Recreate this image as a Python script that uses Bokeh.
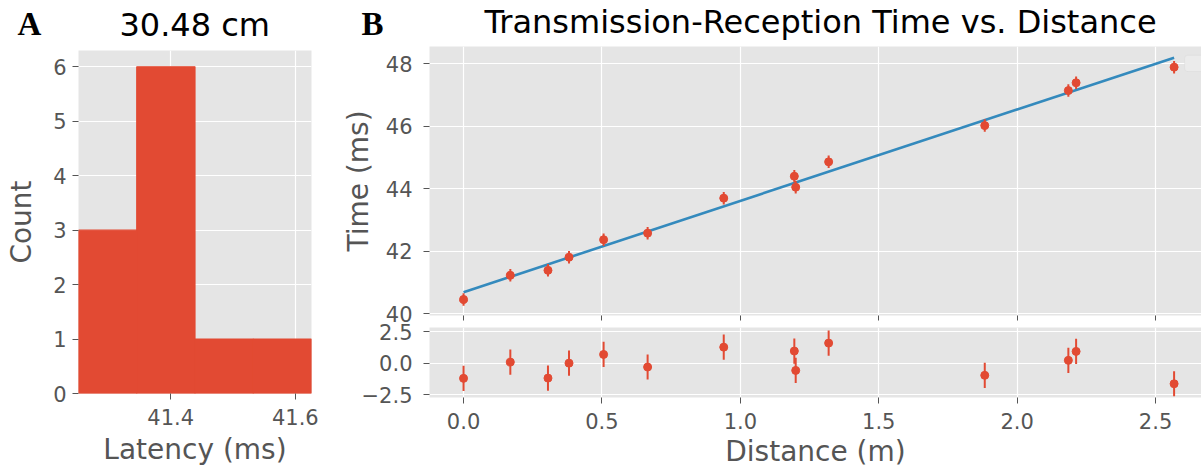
from bokeh.plotting import figure
from bokeh.layouts import row, column
from bokeh.models import Range1d, FixedTicker, BoxAnnotation, PrintfTickFormatter
from bokeh.core.properties import value
from bokeh.embed import file_html
from bokeh.resources import INLINE

# ---------------- data ----------------
# Panel A: histogram of latency at 30.48 cm
hist_edges = [41.252, 41.3455, 41.439, 41.5325, 41.626]
hist_counts = [3, 6, 1, 1]
hist_title = "30.48 cm"
main_title = "Transmission-Reception Time vs. Distance"

# Panel B: transmission-reception time vs distance
distance_m = [0.000, 0.169, 0.305, 0.381, 0.506, 0.665, 0.940,
              1.195, 1.200, 1.319, 1.883, 2.185, 2.213, 2.567]
time_ms = [40.46, 41.23, 41.39, 41.81, 42.37, 42.58, 43.70,
           44.40, 44.05, 44.86, 46.02, 47.14, 47.39, 47.89]
time_err_ms = [0.20, 0.20, 0.20, 0.20, 0.20, 0.20, 0.20,
               0.20, 0.20, 0.20, 0.20, 0.20, 0.20, 0.20]
residual = [-1.19, 0.10, -1.17, 0.02, 0.71, -0.29, 1.29,
            0.98, -0.56, 1.61, -0.95, 0.24, 0.95, -1.62]
residual_err = [1.0, 1.0, 1.0, 1.0, 1.0, 1.0, 1.0,
                1.0, 1.0, 1.0, 1.0, 1.0, 1.0, 1.0]
fit_intercept = 40.69
fit_slope = 2.923

hist_xticks = [41.4, 41.6]
hist_yticks = [0, 1, 2, 3, 4, 5, 6]
dist_ticks = [0.0, 0.5, 1.0, 1.5, 2.0, 2.5]
time_ticks = [40, 42, 44, 46, 48]
resid_ticks = [-2.5, 0.0, 2.5]
resid_labels = {-2.5: "\u22122.5", 0.0: "0.0", 2.5: "2.5"}

RED = "#E24A33"
BLUE = "#348ABD"
BG = "#E5E5E5"
GRAY = "#555555"
FONT = "DejaVu Sans"

W, HEADER_H = 1201, 46


def style(p, label_standoff=6):
    p.background_fill_color = BG
    p.border_fill_color = "white"
    p.outline_line_color = None
    p.grid.grid_line_color = "white"
    p.grid.grid_line_width = 1.2
    for ax in p.axis:
        ax.axis_line_color = None
        ax.major_tick_line_color = GRAY
        ax.major_tick_line_width = 1
        ax.major_tick_out = 6
        ax.major_tick_in = 0
        ax.minor_tick_line_color = None
        ax.major_label_text_font = FONT
        ax.major_label_text_font_size = "21px"
        ax.major_label_text_color = GRAY
        ax.major_label_standoff = label_standoff
        ax.axis_label_text_font = FONT
        ax.axis_label_text_font_size = "28px"
        ax.axis_label_text_font_style = "normal"
        ax.axis_label_text_color = GRAY


# ---------------- header: panel letters and titles ----------------
hd = figure(frame_width=W, frame_height=HEADER_H, output_backend="svg",
            toolbar_location=None, x_range=Range1d(0, W), y_range=Range1d(0, HEADER_H),
            x_axis_type=None, y_axis_type=None,
            min_border_left=0, min_border_right=0, min_border_top=0, min_border_bottom=0)
hd.outline_line_color = None
hd.background_fill_color = "white"
hd.border_fill_color = "white"
hd.grid.visible = False
hd.text(x=[17, 361], y=[23, 23], text=["A", "B"],
        text_font=value("Liberation Serif"), text_font_style="bold",
        text_font_size="33px", text_color="black",
        text_align="left", text_baseline="alphabetic")
hd.text(x=[194.2, 820], y=[21.8, 24.2], text=[hist_title, main_title],
        text_font=value(FONT), text_font_size="32px", text_color="black",
        text_align="center", text_baseline="alphabetic")

# ---------------- Panel A ----------------
pa = figure(frame_width=233, frame_height=343, output_backend="svg",
            toolbar_location=None,
            x_range=Range1d(hist_edges[0], hist_edges[-1]),
            y_range=Range1d(0, 6.3),
            min_border_left=78, min_border_right=24,
            min_border_top=4, min_border_bottom=76)
style(pa, label_standoff=6)
pa.quad(left=hist_edges[:-1], right=hist_edges[1:], bottom=0, top=hist_counts,
        fill_color=RED, line_color=RED, line_width=1.2)
pa.xaxis.ticker = FixedTicker(ticks=hist_xticks)
pa.yaxis.ticker = FixedTicker(ticks=hist_yticks)
pa.xaxis.formatter = PrintfTickFormatter(format="%.1f")
pa.xaxis.major_label_standoff = 9
pa.xaxis.axis_label = "Latency (ms)"
pa.yaxis.axis_label = "Count"
pa.xaxis.axis_label_standoff = 5
pa.yaxis.axis_label_standoff = 12

# ---------------- Panel B main ----------------
xr = Range1d(-0.123, 2.666)
pb = figure(frame_width=772, frame_height=269, output_backend="svg",
            toolbar_location=None,
            x_range=xr, y_range=Range1d(39.946, 48.55),
            min_border_left=94, min_border_right=0,
            min_border_top=0, min_border_bottom=7)
style(pb, label_standoff=11)
pb.xaxis.ticker = FixedTicker(ticks=dist_ticks)
pb.xaxis.major_label_text_font_size = "0px"
pb.xaxis.major_label_standoff = 0
pb.xaxis.major_tick_out = 5
pb.yaxis.ticker = FixedTicker(ticks=time_ticks)
pb.yaxis.axis_label = "Time (ms)"
pb.yaxis.axis_label_standoff = 8

x_fit = [min(distance_m), max(distance_m)]
y_fit = [fit_intercept + fit_slope * v for v in x_fit]
pb.line(x_fit, y_fit, line_color=BLUE, line_width=2.6)
pb.segment(x0=distance_m, x1=distance_m,
           y0=[t - e for t, e in zip(time_ms, time_err_ms)],
           y1=[t + e for t, e in zip(time_ms, time_err_ms)],
           line_color=RED, line_width=2)
pb.scatter(distance_m, time_ms, size=8, fill_color=RED, line_color=RED)
pb.add_layout(BoxAnnotation(left=2.605, right=2.75, bottom=47.75, top=48.27,
                            fill_color="#EBEBEB", fill_alpha=1,
                            line_color="#D0D0D0", line_width=1, border_radius=3))

# ---------------- Panel B residuals ----------------
pr = figure(frame_width=772, frame_height=70, output_backend="svg",
            toolbar_location=None, x_range=xr, y_range=Range1d(-2.71, 2.85),
            min_border_left=94, min_border_right=0,
            min_border_top=5, min_border_bottom=72)
style(pr, label_standoff=11)
pr.xaxis.ticker = FixedTicker(ticks=dist_ticks)
pr.xaxis.formatter = PrintfTickFormatter(format="%.1f")
pr.xaxis.major_label_standoff = 9
pr.yaxis.ticker = FixedTicker(ticks=resid_ticks)
pr.yaxis.major_label_overrides = resid_labels
pr.xaxis.axis_label = "Distance (m)"
pr.xaxis.axis_label_standoff = 3
pr.segment(x0=distance_m, x1=distance_m,
           y0=[r - e for r, e in zip(residual, residual_err)],
           y1=[r + e for r, e in zip(residual, residual_err)],
           line_color=RED, line_width=2)
pr.scatter(distance_m, residual, size=8, fill_color=RED, line_color=RED)

layout = column(hd, row(pa, column(pb, pr, spacing=0), spacing=0), spacing=0)
open("out.html", "w").write(file_html(layout, INLINE))
